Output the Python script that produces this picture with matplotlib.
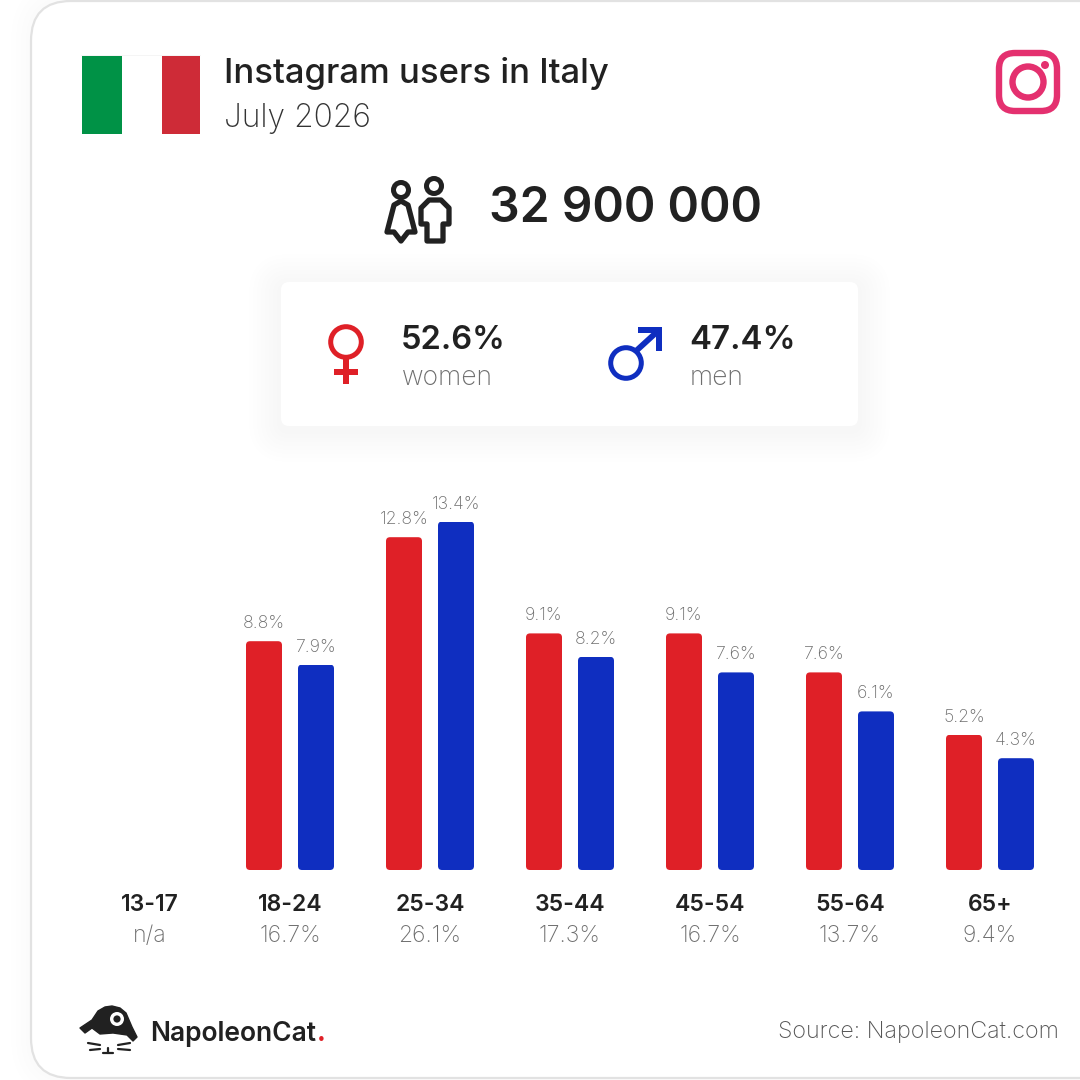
import matplotlib
matplotlib.use("Agg")
import matplotlib.pyplot as plt
from matplotlib.patches import FancyBboxPatch, Rectangle, Circle, Polygon

age_groups = ["13-17", "18-24", "25-34", "35-44", "45-54", "55-64", "65+"]
group_shares = ["n/a", "16.7%", "26.1%", "17.3%", "16.7%", "13.7%", "9.4%"]
women = [None, 8.8, 12.8, 9.1, 9.1, 7.6, 5.2]
men = [None, 7.9, 13.4, 8.2, 7.6, 6.1, 4.3]
title = "Instagram users in Italy"
subtitle = "July 2026"
total_users = "32 900 000"
women_share, men_share = "52.6%", "47.4%"

DARK, GREY = "#212121", "#6e6e6e"
RED, BLUE = "#DF2027", "#0F2EC0"
FONT = ["Inter", "DejaVu Sans"]
px = 0.72

fig = plt.figure(figsize=(10.8, 10.8), dpi=100, facecolor="white")
bg = fig.add_axes([0, 0, 1, 1])
bg.set_xlim(0, 1080)
bg.set_ylim(1080, 0)
bg.axis("off")


def rrect(x0, y0, x1, y1, r, **kw):
    p = FancyBboxPatch((x0, y0), x1 - x0, y1 - y0,
                       boxstyle=f"round,pad=0,rounding_size={r}", **kw)
    bg.add_patch(p)
    return p


def label(x, y, s, size, color=DARK, weight="normal", ha="left"):
    return bg.text(x, y, s, fontsize=size * px, color=color, fontweight=weight,
                   ha=ha, va="baseline", family=FONT)


# card with soft shadow
for k in (20, 15, 10, 5):
    rrect(31 - k, 1 - k, 1200, 1078 + k, 40 + k, fc="black", ec="none", alpha=0.004)
rrect(31, 1, 1200, 1078, 40, fc="white", ec="#e2e2e2", lw=1.6)

# flag
bg.add_patch(Rectangle((81, 55), 120, 1, fc="#f5f5f5", ec="none"))
bg.add_patch(Rectangle((82, 56), 40, 78, fc="#009246", ec="none"))
bg.add_patch(Rectangle((162, 56), 38, 78, fc="#CE2B37", ec="none"))

label(224, 83, title, 34.6, weight="medium")
label(224, 127, subtitle, 31.8, color="#333333", weight="light")

# instagram icon
PINK = "#E4306F"
rrect(999, 53, 1057, 111, 16, fc="none", ec=PINK, lw=4.6)
bg.add_patch(Circle((1028, 82), 15.5, fc="none", ec=PINK, lw=4.6))
bg.add_patch(Circle((1045, 65), 4, fc=PINK, ec="none"))

# people icon
bg.add_patch(Circle((401, 190), 7.5, fc="none", ec=DARK, lw=3.6))
bg.add_patch(Circle((434, 186), 7.5, fc="none", ec=DARK, lw=3.6))
bg.add_patch(Polygon([(401, 201), (408, 205), (415, 232), (408, 232), (401, 241),
                      (394, 232), (387, 232), (394, 205)],
                     closed=True, fc="none", ec=DARK, lw=3.8, joinstyle="round"))
bg.add_patch(Polygon([(429, 200), (441, 200), (449, 208), (449, 224), (443, 224),
                      (443, 241), (427, 241), (427, 224), (421, 224), (421, 208)],
                     closed=True, fc="none", ec=DARK, lw=3.8, joinstyle="round"))

label(489, 222, total_users, 48, weight="semibold")

# gender panel
for k in (32, 28, 24, 20, 16, 12, 8, 4):
    rrect(281 - k, 282 - k + 4, 858 + k, 426 + k + 4, 8 + k, fc="black", ec="none", alpha=0.004)
rrect(281, 282, 858, 426, 8, fc="white", ec="none")

bg.add_patch(Circle((346, 342), 15.3, fc="none", ec=RED, lw=3.6))
bg.add_patch(Rectangle((343, 358), 6, 26, fc=RED, ec="none"))
bg.add_patch(Rectangle((334, 369), 24, 6, fc=RED, ec="none"))
bg.add_patch(Circle((626, 363), 15.3, fc="none", ec=BLUE, lw=3.6))
bg.plot([636, 659], [351, 330], color=BLUE, lw=4.2, solid_capstyle="butt")
bg.add_patch(Polygon([(638, 327), (662, 327), (662, 351), (656, 351), (656, 333), (638, 333)],
                     closed=True, fc=BLUE, ec="none"))

label(401, 349, women_share, 32.6, weight="semibold")
label(402, 385, "women", 26.5, color=GREY, weight="light")
label(689, 349, men_share, 33, weight="semibold")
label(690, 385, "men", 26.5, color=GREY, weight="light")

# bars
scale = 26.0
ax = fig.add_axes([80 / 1080, 210 / 1080, 980 / 1080, 390 / 1080])
ax.patch.set_alpha(0)
ax.set_xlim(-0.5, 6.5)
ax.set_ylim(0, 390 / scale)
for s in ax.spines.values():
    s.set_visible(False)
ax.set_yticks([])
bw = 36 / 140
off = 26 / 140
aspect = 140 / scale


def draw(values, shift, color):
    for i, v in enumerate(values):
        if v is None:
            continue
        x = i + shift
        bar = ax.bar(x, v, bw, color=color, linewidth=0)[0]
        clip = FancyBboxPatch((x - bw / 2, 0), bw, v,
                              boxstyle=f"round,pad=0,rounding_size={4 / 140}",
                              mutation_aspect=aspect, transform=ax.transData)
        bar.set_clip_path(clip)
        ax.annotate(f"{v}%", (x, v), xytext=(0, 13 * px), textcoords="offset points",
                    ha="center", va="baseline", fontsize=17.6 * px, color=GREY,
                    fontweight="light", family=FONT)


draw(women, -off, RED)
draw(men, off, BLUE)

ax.set_xticks(range(len(age_groups)))
ax.set_xticklabels(age_groups, fontsize=23 * px, fontweight="semibold", color=DARK, family=FONT)
ax.tick_params(axis="x", length=0, pad=17)
for i, s in enumerate(group_shares):
    ax.annotate(s, (i, 0), xytext=(0, -72 * px), textcoords="offset points",
                ha="center", va="baseline", fontsize=23 * px, color=GREY,
                fontweight="light", family=FONT)

# logo
logo = [(80, 1028), (92, 1020), (98, 1011), (105, 1007), (112, 1006), (120, 1008), (126, 1013),
        (132, 1027), (137, 1037), (133, 1041), (127, 1035), (113, 1033), (100, 1034), (92, 1028),
        (85, 1033)]
bg.add_patch(Polygon(logo, closed=True, fc=DARK, ec=DARK, lw=1, joinstyle="round"))
bg.add_patch(Circle((117, 1019), 7, fc="white", ec="none"))
bg.add_patch(Circle((117, 1019), 3.6, fc=DARK, ec="none"))
for seg in [((88, 100), (1043, 1045)), ((90, 100), (1050, 1049)), ((118, 130), (1045, 1043)),
            ((118, 130), (1049, 1050)), ((108, 108), (1048, 1053)), ((103, 113), (1053, 1053))]:
    bg.plot(seg[0], seg[1], color=DARK, lw=1.6, solid_capstyle="round")
t = label(150, 1041, "NapoleonCat", 26.4, weight="semibold")
end_x = t.get_window_extent(fig.canvas.get_renderer()).x1
label(end_x + 0.5, 1041, ".", 26.4, color=RED, weight="bold")
label(1059, 1038, "Source: NapoleonCat.com", 23.3, color="#555555", weight="light", ha="right")

fig.savefig("out.png", dpi=100, facecolor="white")
